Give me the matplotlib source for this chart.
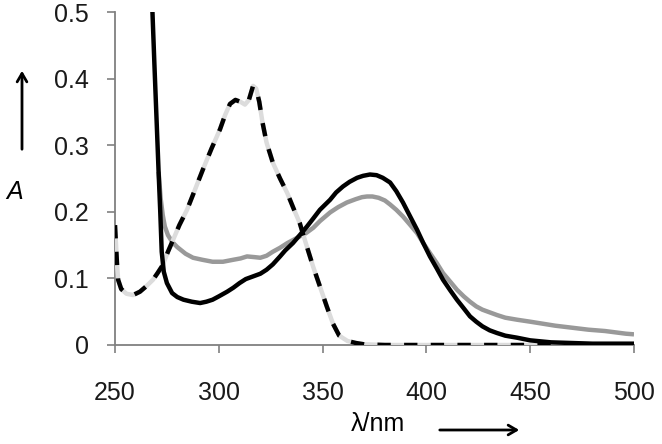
import numpy as np
import matplotlib
matplotlib.use('Agg')
import matplotlib.pyplot as plt

plt.rcParams['font.family'] = ['Liberation Sans', 'DejaVu Sans']

# black solid spectrum
wl_black = [267.8, 269, 270, 271, 271.8, 272.5, 273.5, 275, 277.5, 280, 283, 287, 291, 294, 297,
            300, 304, 307, 310, 313, 316.5, 320, 323, 326, 329.5, 332, 335.7, 339, 342.5,
            345.5, 348.7, 353.6, 356.5, 359.8, 363, 366.6, 369.5, 372.8, 376, 379, 382.5, 385.5,
            388.7, 392, 395.5, 398.5, 401.7, 405, 408, 411.5, 414.7, 418, 421, 424, 427, 430.5,
            434, 438, 443.6, 450, 460, 470, 480, 490, 500]
a_black = [0.52, 0.42, 0.34, 0.26, 0.2, 0.14, 0.11, 0.093, 0.078, 0.072, 0.068, 0.065, 0.063, 0.065, 0.068,
           0.073, 0.08, 0.086, 0.093, 0.099, 0.103, 0.107, 0.113, 0.121, 0.133, 0.142, 0.153, 0.165, 0.178,
           0.19, 0.203, 0.218, 0.229, 0.238, 0.245, 0.251, 0.254, 0.256, 0.255, 0.251, 0.244, 0.231,
           0.214, 0.194, 0.173, 0.153, 0.133, 0.115, 0.098, 0.082, 0.068, 0.055, 0.043, 0.035, 0.028, 0.022,
           0.018, 0.014, 0.011, 0.007, 0.004, 0.003, 0.002, 0.002, 0.002]

# grey solid spectrum
wl_grey = [271, 272, 273, 274, 275.5, 277.5, 280, 284, 287.6, 292, 297, 302, 307, 310.5,
           313.6, 317, 320, 323, 326, 329.5, 333, 336, 339, 342, 345.5, 348.7, 353.6, 357.5,
           361.7, 366, 369, 371.4, 374, 377, 380, 382.5, 385.5, 388.7, 392, 395.5, 398.5, 401.7,
           405, 408, 411.5, 414.7, 418, 421, 424, 427, 430.5, 434, 438, 443.6, 450, 456, 462,
           470, 478, 486, 496, 500]
a_grey = [0.26, 0.22, 0.195, 0.178, 0.165, 0.155, 0.147, 0.137, 0.131, 0.128, 0.125, 0.125, 0.128, 0.13,
          0.133, 0.132, 0.131, 0.134, 0.14, 0.146, 0.153, 0.158, 0.163, 0.168, 0.176, 0.186, 0.199, 0.207,
          0.214, 0.219, 0.222, 0.223, 0.223, 0.221, 0.217, 0.211, 0.203, 0.193, 0.181, 0.168, 0.153, 0.138,
          0.123, 0.108, 0.095, 0.083, 0.073, 0.065, 0.058, 0.053, 0.049, 0.045, 0.041, 0.038, 0.035, 0.032, 0.029,
          0.026, 0.023, 0.021, 0.017, 0.016]

# dashed spectrum
wl_dash = [250, 250.5, 251, 251.5, 253, 255.5, 258.7, 262, 265, 268.3, 270.5, 273, 275.5, 278, 281, 284.7,
           288.5, 292.4, 296.5, 300.6, 303, 305.4, 308, 310.5, 312.6, 314.5, 316.5, 318, 319.5,
           321, 323, 326, 329.5, 333, 336, 339, 342, 345.4, 348.7, 352, 355, 358, 362, 366,
           370, 380, 400, 450, 500]
a_dash = [0.18, 0.15, 0.12, 0.098, 0.084, 0.077, 0.075, 0.08, 0.088, 0.098, 0.108, 0.12, 0.14, 0.158, 0.18, 0.203,
          0.233, 0.264, 0.295, 0.324, 0.345, 0.362, 0.368, 0.365, 0.361, 0.368, 0.389, 0.385, 0.365,
          0.335, 0.304, 0.274, 0.25, 0.228, 0.205, 0.183, 0.152, 0.118, 0.088, 0.058, 0.032, 0.014, 0.006, 0.003,
          0.001, 0.0, 0.0, 0.0, 0.0]

xticks = [250, 300, 350, 400, 450, 500]
yticks = [0, 0.1, 0.2, 0.3, 0.4, 0.5]
ytick_labels = ['0', '0.1', '0.2', '0.3', '0.4', '0.5']

fig = plt.figure(figsize=(6.62, 4.44), dpi=100)
ax = fig.add_axes([115/662., 1 - 345/444., (634-115)/662., (345-12)/444.])

ax.plot(wl_grey, a_grey, color='#999999', lw=3.2, solid_capstyle='butt', zorder=2)
ax.plot(wl_dash, a_dash, color='#dcdcdc', lw=3.2, solid_capstyle='butt', zorder=3)
ax.plot(wl_dash, a_dash, color='black', lw=3.2, dashes=(3.0, 3.0), dash_capstyle='butt', zorder=4)
ax.plot(wl_black, a_black, color='black', lw=3.2, solid_capstyle='butt', zorder=5)

ax.set_xlim(250, 500)
ax.set_ylim(0, 0.5)
ax.set_xticks(xticks)
ax.set_yticks(yticks)
ax.set_yticklabels(ytick_labels)

for s in ['top', 'right']:
    ax.spines[s].set_visible(False)
for s in ['left', 'bottom']:
    ax.spines[s].set_color('#808080')
    ax.spines[s].set_linewidth(1.3)
ax.tick_params(axis='both', direction='out', length=6, width=1.2, color='#808080',
               labelsize=18, labelcolor='#1a1a1a')
ax.tick_params(axis='y', pad=13)
ax.tick_params(axis='x', pad=20)

# axis labels with arrows
fig.text(15/662., 1 - 192/444., 'A', fontsize=18, style='italic', ha='center', va='center')
ax.annotate('', xy=(22, 444-68), xytext=(22, 444-152), xycoords='figure pixels',
            textcoords='figure pixels',
            arrowprops=dict(arrowstyle='->,head_length=0.6,head_width=0.35', lw=2, color='black'))
fig.text(378/662., 1 - 424/444., 'λ/nm', fontsize=18, ha='center', va='center')
ax.annotate('', xy=(522, 444-430), xytext=(437, 444-430), xycoords='figure pixels',
            textcoords='figure pixels',
            arrowprops=dict(arrowstyle='->,head_length=0.6,head_width=0.35', lw=2, color='black'))

plt.savefig('out.png', dpi=100)
